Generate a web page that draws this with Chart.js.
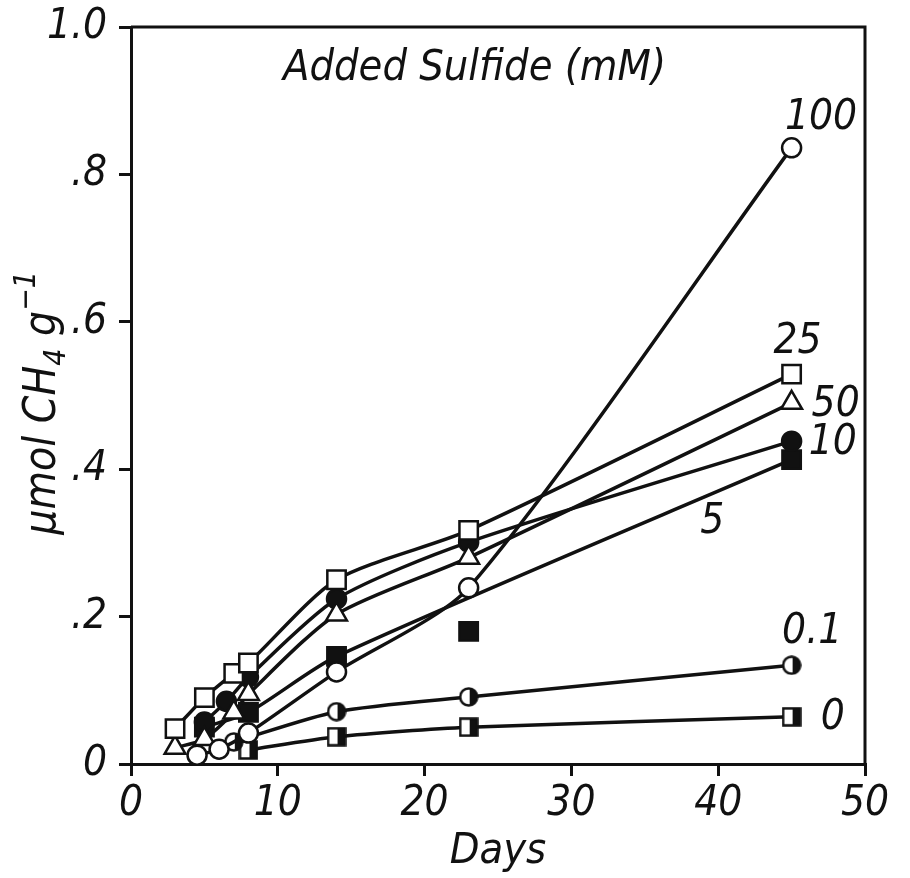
<!DOCTYPE html>
<html>
<head>
<meta charset="utf-8">
<script src="https://cdn.jsdelivr.net/npm/chart.js@4"></script>
<style>
  html, body { margin: 0; padding: 0; background: #fff; }
  #wrap { width: 910px; height: 878px; }
</style>
</head>
<body>
<div id="wrap"><canvas id="cv" width="910" height="878"></canvas></div>
<script>
// ---- dados ----
const xTicks = [0, 10, 20, 30, 40, 50];
const yTicks = [0, 0.2, 0.4, 0.6, 0.8, 1.0];
const yTickLabels = ['0', '.2', '.4', '.6', '.8', '1.0'];

const days0 = [8, 14, 23, 45];
const vals0 = [0.019, 0.037, 0.05, 0.064];

const days01 = [7, 14, 23, 45];
const vals01 = [0.03, 0.071, 0.091, 0.134];

const days5 = [5, 8, 14, 45];
const vals5 = [0.05, 0.07, 0.146, 0.413];
const days5off = [23];
const vals5off = [0.18];

const days10 = [5, 6.5, 8, 14, 23, 45];
const vals10 = [0.057, 0.085, 0.118, 0.224, 0.301, 0.438];

const days25 = [3, 5, 7, 8, 14, 23, 45];
const vals25 = [0.048, 0.09, 0.123, 0.137, 0.25, 0.317, 0.529];

const days50 = [3, 5, 7, 8, 14, 23, 45];
const vals50 = [0.022, 0.034, 0.07, 0.095, 0.203, 0.28, 0.49];

const days100 = [4.5, 6, 8, 14, 23, 45];
const vals100 = [0.012, 0.02, 0.042, 0.125, 0.239, 0.836];

// rótulos das curvas (texto, dia, valor)
const curveLabels = ['100', '25', '50', '10', '5', '0.1', '0'];
const curveLabelX = [47.0, 45.4, 48.0, 47.8, 39.6, 46.4, 47.8];
const curveLabelY = [0.877, 0.573, 0.487, 0.436, 0.328, 0.179, 0.062];

const titleText = 'Added Sulfide (mM)';
const xTitle = 'Days';
// título do eixo y em pedaços: [texto, 0 normal / 1 índice / -1 expoente]
const yTitleParts = [['μmol CH', 0], ['4', 1], [' g', 0], ['−1', -1]];

const FONT = '"DejaVu Sans Condensed", "DejaVu Sans", sans-serif';

// ---- marcadores meio preenchidos ----
function halfMarker(shape) {
  const s = 20;
  const c = document.createElement('canvas');
  c.width = s; c.height = s;
  const g = c.getContext('2d');
  const path = () => {
    g.beginPath();
    if (shape === 'circle') g.arc(s / 2, s / 2, s / 2 - 1.5, 0, Math.PI * 2);
    else g.rect(1.5, 1.5, s - 3, s - 3);
  };
  path();
  g.fillStyle = '#fff';
  g.fill();
  g.save();
  path();
  g.clip();
  g.fillStyle = '#111';
  g.fillRect(s / 2 + 1, 0, s / 2, s);
  g.restore();
  path();
  g.lineWidth = 2.5;
  g.strokeStyle = '#111';
  g.stroke();
  return c;
}

const pts = (xs, ys) => xs.map((x, i) => ({ x, y: ys[i] }));

function serie(label, xs, ys, style, fill, extra) {
  let r = 9.5;
  if (style === 'rect') r = 13;
  if (style === 'triangle') r = 12;
  return Object.assign({
    label,
    data: pts(xs, ys),
    showLine: true,
    borderColor: '#111',
    borderWidth: 3.5,
    tension: 0.25,
    pointStyle: style,
    pointRadius: r,
    pointBorderWidth: 2.5,
    pointBorderColor: '#111',
    pointBackgroundColor: fill
  }, extra || {});
}

const datasets = [
  serie('100', days100, vals100, 'circle', '#fff'),
  serie('25', days25, vals25, 'rect', '#fff'),
  serie('50', days50, vals50, 'triangle', '#fff'),
  serie('10', days10, vals10, 'circle', '#111'),
  serie('5', days5, vals5, 'rect', '#111'),
  serie('5', days5off, vals5off, 'rect', '#111', { showLine: false }),
  serie('0.1', days01, vals01, halfMarker('circle'), '#fff'),
  serie('0', days0, vals0, halfMarker('rect'), '#fff')
];

// moldura + textos
const extras = {
  id: 'extras',
  afterDraw(chart) {
    const { ctx, chartArea: a, scales: { x, y } } = chart;
    ctx.save();
    ctx.strokeStyle = '#111';
    ctx.lineWidth = 3;
    ctx.beginPath();
    ctx.moveTo(a.left, a.top);
    ctx.lineTo(a.right, a.top);
    ctx.lineTo(a.right, a.bottom);
    ctx.stroke();

    ctx.fillStyle = '#111';
    ctx.textAlign = 'center';
    ctx.textBaseline = 'middle';
    ctx.font = 'italic 43px ' + FONT;
    ctx.fillText(titleText, x.getPixelForValue(23.4), y.getPixelForValue(0.943));

    ctx.font = 'italic 42px ' + FONT;
    curveLabels.forEach((t, i) => {
      ctx.fillText(t, x.getPixelForValue(curveLabelX[i]), y.getPixelForValue(curveLabelY[i]));
    });

    // título do eixo x
    ctx.font = 'italic 43px ' + FONT;
    ctx.textBaseline = 'alphabetic';
    ctx.fillText(xTitle, (a.left + a.right) / 2, a.bottom + 99);

    // título do eixo y, girado, com índice e expoente
    const big = 'italic 44px ' + FONT, small = 'italic 30px ' + FONT;
    ctx.translate(40, y.getPixelForValue(0.49));
    ctx.rotate(-Math.PI / 2);
    ctx.textAlign = 'left';
    let w = 0;
    yTitleParts.forEach(([t, d]) => { ctx.font = d ? small : big; w += ctx.measureText(t).width; });
    let cx = -w / 2;
    yTitleParts.forEach(([t, d]) => {
      ctx.font = d ? small : big;
      ctx.fillText(t, cx, 15 + (d > 0 ? 10 : 0) + (d < 0 ? -20 : 0));
      cx += ctx.measureText(t).width;
    });
    ctx.restore();
  }
};

new Chart(document.getElementById('cv'), {
  type: 'scatter',
  data: { datasets },
  options: {
    responsive: false,
    animation: false,
    layout: { padding: { top: 27, right: 45, left: 0, bottom: 0 } },
    plugins: { legend: { display: false }, tooltip: { enabled: false } },
    scales: {
      x: {
        type: 'linear',
        min: 0, max: 50,
        afterBuildTicks: s => { s.ticks = xTicks.map(v => ({ value: v })); },
        afterFit: s => { s.height = 114; s.paddingLeft = 0; s.paddingRight = 0; },
        border: { color: '#111', width: 3 },
        grid: { drawOnChartArea: false, drawTicks: true, tickLength: 12, color: '#111', lineWidth: 3 },
        ticks: { color: '#111', padding: 3, font: { family: FONT, size: 42, style: 'italic' } },
        title: { display: false }
      },
      y: {
        type: 'linear',
        min: 0, max: 1.0,
        afterBuildTicks: s => { s.ticks = yTicks.map(v => ({ value: v })); },
        afterFit: s => { s.width = 131; s.paddingTop = 0; s.paddingBottom = 0; },
        border: { color: '#111', width: 3 },
        grid: { drawOnChartArea: false, drawTicks: true, tickLength: 12, color: '#111', lineWidth: 3 },
        ticks: {
          color: '#111', padding: 12,
          font: { family: FONT, size: 42, style: 'italic' },
          callback: (v) => yTickLabels[yTicks.findIndex(t => Math.abs(t - v) < 1e-9)]
        },
        title: { display: false }
      }
    }
  },
  plugins: [extras]
});
</script>
</body>
</html>
